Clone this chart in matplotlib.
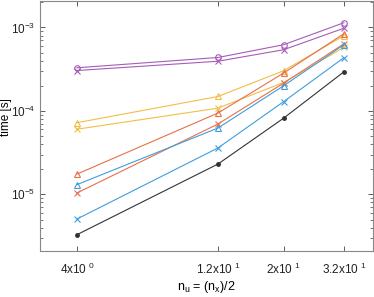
import matplotlib
matplotlib.use("Agg")
import matplotlib.pyplot as plt
from matplotlib.ticker import FixedLocator, LogLocator, NullLocator

plt.rcParams['font.family'] = ['Liberation Sans', 'DejaVu Sans']
plt.rcParams['mathtext.default'] = 'regular'

n_u = [4, 12, 20, 32]

purple_o = [3.29e-4, 4.37e-4, 6.21e-4, 1.14e-3]
purple_x = [3.05e-4, 3.94e-4, 5.41e-4, 9.8e-4]
yellow_tri = [7.23e-5, 1.49e-4, 3.03e-4, 7.96e-4]
yellow_x = [6.04e-5, 1.08e-4, 2.19e-4, 5.76e-4]
orange_tri = [1.75e-5, 9.44e-5, 2.84e-4, 8.41e-4]
orange_x = [1.04e-5, 6.97e-5, 2.15e-4, 6.38e-4]
blue_tri = [1.31e-5, 6.24e-5, 2.0e-4, 6.21e-4]
blue_x = [5.07e-6, 3.60e-5, 1.29e-4, 4.34e-4]
black_dot = [3.29e-6, 2.31e-5, 8.18e-5, 2.94e-4]

xtick_labels = ['4x10$^{\\ 0}$', '1.2x10$^{\\ 1}$', '2x10$^{\\ 1}$', '3.2x10$^{\\ 1}$']

c_purple = '#a65cb8'
c_yellow = '#f2be45'
c_orange = '#e8704a'
c_blue = '#3f9ee0'
c_black = '#333333'

fig = plt.figure(figsize=(3.74, 2.97), dpi=100)
ax = fig.add_axes([0.107, 0.155, 0.889, 0.843])

lw = 0.8
ms = 4
series = [
    (purple_o, c_purple, 'o'),
    (purple_x, c_purple, 'x'),
    (yellow_tri, c_yellow, '^'),
    (yellow_x, c_yellow, 'x'),
    (orange_tri, c_orange, '^'),
    (orange_x, c_orange, 'x'),
    (blue_tri, c_blue, '^'),
    (blue_x, c_blue, 'x'),
]
for vals, col, mk in series:
    ax.plot(n_u, vals, color=col, marker=mk, markersize=ms, linewidth=lw,
            markerfacecolor='none', markeredgewidth=0.8)
ax.plot(n_u, black_dot, color=c_black, marker='.', markersize=5, linewidth=lw)

ax.set_xscale('log')
ax.set_yscale('log')
ax.set_xlim(3, 40)
ax.set_ylim(2.1e-6, 2.1e-3)

ax.xaxis.set_major_locator(FixedLocator(n_u))
ax.xaxis.set_minor_locator(NullLocator())
ax.set_xticklabels(xtick_labels)
ax.yaxis.set_major_locator(LogLocator(base=10, numticks=10))
ax.yaxis.set_minor_locator(LogLocator(base=10, subs=range(2, 10), numticks=10))

ax.tick_params(which='both', direction='in', top=True, right=True,
               colors='#444444', labelcolor='#222222', labelsize=8.5)
ax.tick_params(which='major', length=3.5, width=0.6)
ax.tick_params(which='minor', length=2, width=0.5)
ax.tick_params(axis='x', pad=8)
for s in ax.spines.values():
    s.set_color('#888888')
    s.set_linewidth(0.8)

ax.set_xlabel('$n_u$ = ($n_x$)/2', fontsize=9, labelpad=1)
ax.set_ylabel('time [s]', fontsize=8.5)
ax.yaxis.set_label_coords(-0.084, 0.534)

fig.savefig('out.png', dpi=100)
